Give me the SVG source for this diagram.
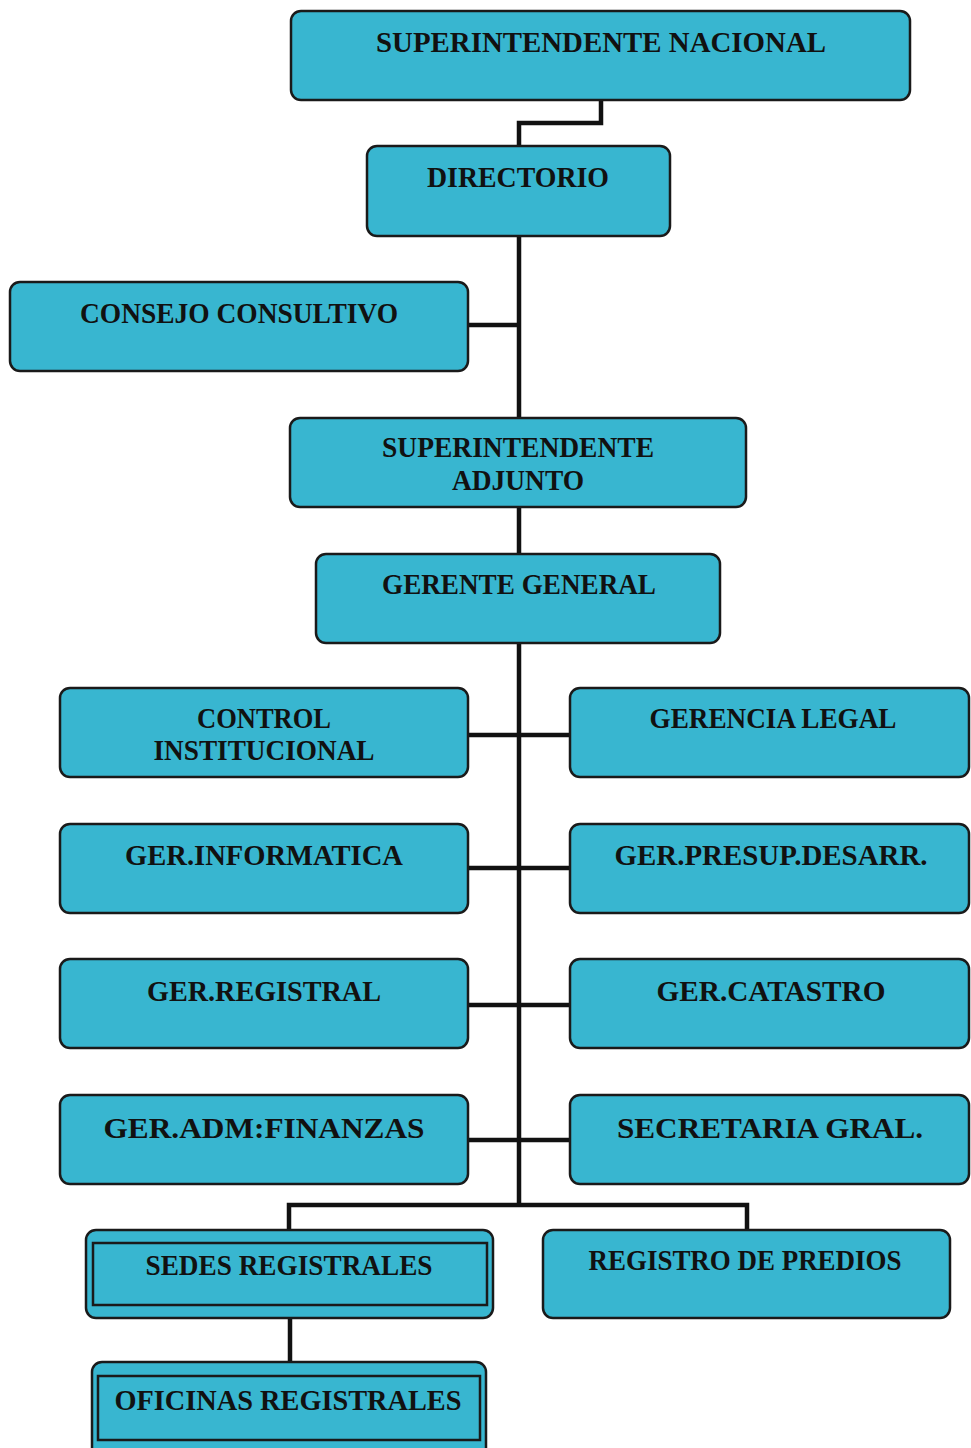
<svg xmlns="http://www.w3.org/2000/svg" width="971" height="1448" viewBox="0 0 971 1448">
<style>
.box{fill:#38b6d0;stroke:#1a1a1a;stroke-width:2.5}
.inner{fill:none;stroke:#1a1a1a;stroke-width:2.5}
.t{font-family:"Liberation Serif","Times New Roman",serif;font-weight:bold;font-size:29px;fill:#111;text-anchor:middle}
.c{fill:none;stroke:#111;stroke-width:4.5}
</style>
<rect width="971" height="1448" fill="#ffffff"/>
<g id="connectors">
<polyline class="c" points="601,100 601,123 519,123 519,146"/>
<line class="c" x1="519" y1="236" x2="519" y2="1207"/>
<line class="c" x1="468" y1="325" x2="519" y2="325"/>
<line class="c" x1="468" y1="735" x2="570" y2="735"/>
<line class="c" x1="468" y1="868" x2="570" y2="868"/>
<line class="c" x1="468" y1="1005" x2="570" y2="1005"/>
<line class="c" x1="468" y1="1140" x2="570" y2="1140"/>
<polyline class="c" points="289,1230 289,1205 747,1205 747,1230"/>
<line class="c" x1="290" y1="1318" x2="290" y2="1362"/>
</g>
<g id="superintendente-nacional">
<rect class="box" x="291" y="11" width="619" height="89" rx="10"/>
<text class="t" x="601" y="52" textLength="450" lengthAdjust="spacingAndGlyphs">SUPERINTENDENTE NACIONAL</text>
</g>
<g id="directorio">
<rect class="box" x="367" y="146" width="303" height="90" rx="10"/>
<text class="t" x="518" y="187" textLength="182" lengthAdjust="spacingAndGlyphs">DIRECTORIO</text>
</g>
<g id="consejo-consultivo">
<rect class="box" x="10" y="282" width="458" height="89" rx="10"/>
<text class="t" x="239" y="323" textLength="318" lengthAdjust="spacingAndGlyphs">CONSEJO CONSULTIVO</text>
</g>
<g id="superintendente-adjunto">
<rect class="box" x="290" y="418" width="456" height="89" rx="10"/>
<text class="t" x="518" y="457" textLength="272" lengthAdjust="spacingAndGlyphs">SUPERINTENDENTE</text>
<text class="t" x="518" y="490" textLength="132" lengthAdjust="spacingAndGlyphs">ADJUNTO</text>
</g>
<g id="gerente-general">
<rect class="box" x="316" y="554" width="404" height="89" rx="10"/>
<text class="t" x="519" y="594" textLength="274" lengthAdjust="spacingAndGlyphs">GERENTE GENERAL</text>
</g>
<g id="control-institucional">
<rect class="box" x="60" y="688" width="408" height="89" rx="10"/>
<text class="t" x="264" y="728" textLength="134" lengthAdjust="spacingAndGlyphs">CONTROL</text>
<text class="t" x="264" y="760" textLength="221" lengthAdjust="spacingAndGlyphs">INSTITUCIONAL</text>
</g>
<g id="gerencia-legal">
<rect class="box" x="570" y="688" width="399" height="89" rx="10"/>
<text class="t" x="773" y="728" textLength="247" lengthAdjust="spacingAndGlyphs">GERENCIA LEGAL</text>
</g>
<g id="ger-informatica">
<rect class="box" x="60" y="824" width="408" height="89" rx="10"/>
<text class="t" x="264" y="865" textLength="278" lengthAdjust="spacingAndGlyphs">GER.INFORMATICA</text>
</g>
<g id="ger-presup-desarr">
<rect class="box" x="570" y="824" width="399" height="89" rx="10"/>
<text class="t" x="771" y="865" textLength="313" lengthAdjust="spacingAndGlyphs">GER.PRESUP.DESARR.</text>
</g>
<g id="ger-registral">
<rect class="box" x="60" y="959" width="408" height="89" rx="10"/>
<text class="t" x="264" y="1001" textLength="234" lengthAdjust="spacingAndGlyphs">GER.REGISTRAL</text>
</g>
<g id="ger-catastro">
<rect class="box" x="570" y="959" width="399" height="89" rx="10"/>
<text class="t" x="771" y="1001" textLength="229" lengthAdjust="spacingAndGlyphs">GER.CATASTRO</text>
</g>
<g id="ger-adm-finanzas">
<rect class="box" x="60" y="1095" width="408" height="89" rx="10"/>
<text class="t" x="264" y="1138" textLength="321" lengthAdjust="spacingAndGlyphs">GER.ADM:FINANZAS</text>
</g>
<g id="secretaria-gral">
<rect class="box" x="570" y="1095" width="399" height="89" rx="10"/>
<text class="t" x="770" y="1138" textLength="306" lengthAdjust="spacingAndGlyphs">SECRETARIA GRAL.</text>
</g>
<g id="sedes-registrales">
<rect class="box" x="86" y="1230" width="407" height="88" rx="10"/>
<rect class="inner" x="93" y="1243" width="394" height="62"/>
<text class="t" x="289" y="1275" textLength="287" lengthAdjust="spacingAndGlyphs">SEDES REGISTRALES</text>
</g>
<g id="registro-de-predios">
<rect class="box" x="543" y="1230" width="407" height="88" rx="10"/>
<text class="t" x="745" y="1270" textLength="313" lengthAdjust="spacingAndGlyphs">REGISTRO DE PREDIOS</text>
</g>
<g id="oficinas-registrales">
<rect class="box" x="92" y="1362" width="394" height="96" rx="10"/>
<rect class="inner" x="98" y="1376" width="382" height="64"/>
<text class="t" x="288" y="1410" textLength="347" lengthAdjust="spacingAndGlyphs">OFICINAS REGISTRALES</text>
</g>
</svg>
